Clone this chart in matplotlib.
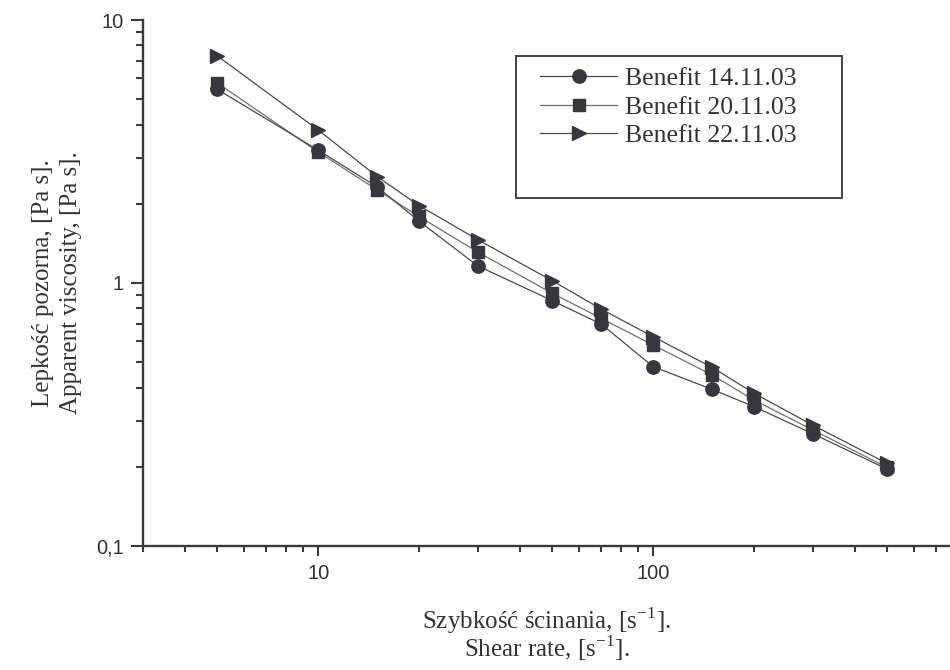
import matplotlib
matplotlib.use("Agg")
import matplotlib.pyplot as plt
from matplotlib.ticker import FixedLocator, FixedFormatter, LogLocator, NullFormatter
from matplotlib.patches import Rectangle

plt.rcParams['mathtext.fontset'] = 'custom'
plt.rcParams['mathtext.rm'] = 'Liberation Serif'

# shear rate [1/s]
shear = [5, 10, 15, 20, 30, 50, 70, 100, 150, 200, 300, 500]
# apparent viscosity [Pa s]
visc_1411 = [5.45, 3.20, 2.32, 1.72, 1.16, 0.857, 0.698, 0.481, 0.394, 0.339, 0.267, 0.196]
visc_2011 = [5.76, 3.15, 2.26, 1.79, 1.31, 0.914, 0.734, 0.581, 0.447, 0.359, 0.276, 0.199]
visc_2211 = [7.30, 3.82, 2.54, 1.97, 1.46, 1.02, 0.796, 0.625, 0.478, 0.381, 0.288, 0.206]
labels = ["Benefit 14.11.03", "Benefit 20.11.03", "Benefit 22.11.03"]

ytick_vals = [0.1, 1, 10]
ytick_text = ["0,1", "1", "10"]
xtick_vals = [10, 100]
xtick_text = ["10", "100"]

dark = '#36363e'
linec = '#4a4a4a'

fig = plt.figure(figsize=(9.5, 6.7), dpi=100)
ax = fig.add_axes([143/950, 1-546/670, 807/950, 526/670])

ax.plot(shear, visc_1411, '-', color=linec, lw=0.9, marker='o', ms=9.6,
        mfc=dark, mec=dark, label=labels[0], zorder=3)
ax.plot(shear, visc_2011, '-', color='#707070', lw=0.9, marker='s', ms=8.6,
        mfc=dark, mec=dark, label=labels[1], zorder=2)
ax.plot(shear, visc_2211, '-', color=linec, lw=0.9, marker='>', ms=10.5,
        mfc=dark, mec=dark, label=labels[2], zorder=2)

ax.set_xscale('log')
ax.set_yscale('log')
ax.set_xlim(3, 770)
ax.set_ylim(0.1, 10)

for s in ['top', 'right']:
    ax.spines[s].set_visible(False)
for s in ['left', 'bottom']:
    ax.spines[s].set_linewidth(1.7)
    ax.spines[s].set_color('#3a3a3a')

ax.yaxis.set_major_locator(FixedLocator(ytick_vals))
ax.yaxis.set_major_formatter(FixedFormatter(ytick_text))
ax.xaxis.set_major_locator(FixedLocator(xtick_vals))
ax.xaxis.set_major_formatter(FixedFormatter(xtick_text))
ax.xaxis.set_minor_locator(LogLocator(base=10, subs=range(2, 10)))
ax.yaxis.set_minor_locator(LogLocator(base=10, subs=range(2, 10)))
ax.xaxis.set_minor_formatter(NullFormatter())
ax.yaxis.set_minor_formatter(NullFormatter())

ax.tick_params(axis='both', which='both', direction='out', color='#3a3a3a', width=1.5,
               labelcolor='#333333', labelsize=14.5)
ax.tick_params(axis='y', which='major', length=9, pad=5)
ax.tick_params(axis='y', which='minor', length=5)
ax.tick_params(axis='x', which='major', length=7, pad=6)
ax.tick_params(axis='x', which='minor', length=4.5)
for t in ax.get_xticklabels() + ax.get_yticklabels():
    t.set_family('Liberation Sans')

ax.set_xlabel("Szybkość ścinania, [s$^{-1}$].\nShear rate, [s$^{-1}$].",
              family='Liberation Serif', fontsize=18, color='#333333',
              linespacing=0.88, labelpad=16)
ax.set_ylabel("Lepkość pozorna, [Pa s].\nApparent viscosity, [Pa s].",
              family='Liberation Serif', fontsize=18, color='#333333',
              linespacing=1.35, labelpad=10)

leg = ax.legend(loc='upper left', bbox_to_anchor=(540/950, 1-67/670),
                bbox_transform=fig.transFigure, frameon=False,
                prop={'family': 'Liberation Serif', 'size': 18.5},
                handlelength=3.0, handletextpad=0.3, labelspacing=0.22,
                borderpad=0, borderaxespad=0)
for t in leg.get_texts():
    t.set_color('#333333')

fig.patches.append(Rectangle((516/950, 1-198/670), 326/950, 142/670,
                             transform=fig.transFigure, fill=False,
                             edgecolor='#444444', lw=1.4))

fig.savefig("out.png", dpi=100)
